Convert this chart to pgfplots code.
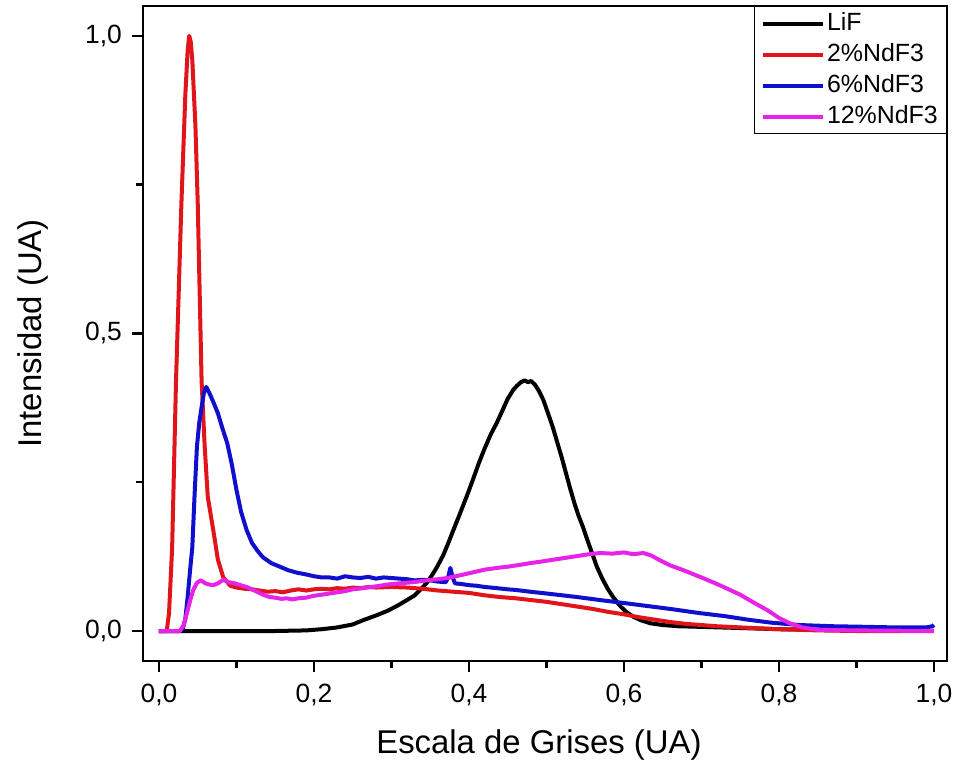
\documentclass[border=0pt]{standalone}
\usepackage{fontspec}
\setmainfont{Liberation Sans}
\usepackage{pgfplots}
\pgfplotsset{compat=1.18}

\definecolor{cLiF}{RGB}{0,0,0}
\definecolor{cTwo}{RGB}{225,20,25}
\definecolor{cSix}{RGB}{15,15,205}
\definecolor{cTwelve}{RGB}{230,35,230}

\begin{document}
\begin{tikzpicture}
\begin{axis}[
  scale only axis, width=804bp, height=655bp,
  xmin=-0.0206, xmax=1.0168, ymin=-0.0504, ymax=1.050,
  xtick={0,0.2,0.4,0.6,0.8,1}, minor xtick={0.1,0.3,0.5,0.7,0.9},
  ytick={0,0.5,1}, minor ytick={0.25,0.75},
  tick align=outside, tick pos=left,
  major tick length=11bp, minor tick length=7bp,
  every tick/.style={black, line width=2.4bp},
  axis line style={line width=2.7bp},
  tick label style={font=\fontsize{26.5}{31}\selectfont},
  xticklabel style={inner sep=0pt}, xticklabel shift=12bp,
  yticklabel style={inner sep=0pt}, yticklabel shift=10bp,
  /pgf/number format/use comma,
  /pgf/number format/fixed,
  /pgf/number format/fixed zerofill,
  /pgf/number format/precision=1,
  /pgf/number format/assume math mode=true,
  label style={font=\fontsize{33}{38}\selectfont},
  xlabel={Escala de Grises (UA)},
  ylabel={Intensidad (UA)},
  xlabel style={at={(axis description cs:0.4925,-0.1405)}, anchor=base},
  ylabel style={at={(axis description cs:-0.137,0.5)}, anchor=center},
  every axis plot/.append style={line width=4bp, line join=round},
  legend image code/.code={\draw[#1] (0bp,0bp) -- (60bp,0bp);},
  legend cell align=left,
  legend style={at={(1,1)}, anchor=north east, draw=black, line width=1.4bp,
    font=\fontsize{25}{30}\selectfont, inner xsep=6bp, inner ysep=1.5bp,
    nodes={inner sep=2.5bp, text height=20bp, text depth=6bp},
    row sep=0pt},
]
% LiF
\addplot[cLiF] coordinates {
(0,0) (0.05,0) (0.1,0) (0.15,0) (0.19,0.001) (0.21,0.003) (0.23,0.006)
(0.25,0.011) (0.263,0.018) (0.28,0.026) (0.295,0.034) (0.307,0.042)
(0.32,0.052) (0.33,0.06) (0.337,0.069) (0.345,0.08) (0.352,0.093)
(0.359,0.108) (0.367,0.128) (0.374,0.15) (0.38,0.17) (0.388,0.196)
(0.397,0.226) (0.405,0.254) (0.413,0.283) (0.42,0.306) (0.428,0.33)
(0.436,0.35) (0.443,0.37) (0.45,0.39) (0.457,0.405) (0.462,0.412)
(0.467,0.418) (0.472,0.421) (0.476,0.418) (0.48,0.42) (0.485,0.414)
(0.49,0.404) (0.496,0.388) (0.503,0.362) (0.508,0.343) (0.513,0.321)
(0.52,0.29) (0.525,0.266) (0.53,0.242) (0.536,0.215) (0.541,0.195)
(0.547,0.175) (0.553,0.152) (0.559,0.13) (0.565,0.108) (0.572,0.088)
(0.579,0.071) (0.586,0.057) (0.595,0.042) (0.603,0.032) (0.612,0.024)
(0.622,0.018) (0.634,0.013) (0.65,0.01) (0.67,0.008) (0.698,0.007)
(0.75,0.005) (0.8,0.003) (0.85,0.002) (0.9,0.001) (1.0,0)
};
\addlegendentry{LiF}
% 2% NdF3
\addplot[cTwo] coordinates {
(0,0) (0.01,0) (0.013,0.03) (0.017,0.14) (0.022,0.42) (0.029,0.72)
(0.034,0.9) (0.037,0.975) (0.039,1.0) (0.041,0.99) (0.043,0.96)
(0.047,0.85) (0.05,0.72) (0.055,0.42) (0.059,0.31) (0.063,0.225)
(0.07,0.17) (0.076,0.12) (0.083,0.09) (0.092,0.076) (0.1,0.073)
(0.11,0.071) (0.12,0.07) (0.13,0.068) (0.14,0.066) (0.15,0.067)
(0.16,0.065) (0.17,0.068) (0.18,0.07) (0.19,0.068) (0.2,0.07)
(0.21,0.071) (0.22,0.07) (0.23,0.072) (0.24,0.071) (0.25,0.073)
(0.26,0.072) (0.27,0.074) (0.28,0.073) (0.3,0.074) (0.32,0.073)
(0.34,0.071) (0.36,0.068) (0.38,0.066) (0.4,0.064) (0.42,0.06)
(0.44,0.057) (0.46,0.055) (0.48,0.052) (0.5,0.049) (0.52,0.045)
(0.54,0.041) (0.56,0.037) (0.58,0.032) (0.6,0.028) (0.62,0.023)
(0.64,0.019) (0.66,0.015) (0.68,0.012) (0.7,0.01) (0.72,0.008)
(0.75,0.006) (0.8,0.003) (0.85,0.001) (0.9,0) (1.0,0)
};
\addlegendentry{2\%NdF3}
% 6% NdF3
\addplot[cSix] coordinates {
(0,0) (0.027,0) (0.031,0.005) (0.034,0.02) (0.037,0.057) (0.04,0.1)
(0.043,0.14) (0.046,0.23) (0.049,0.31) (0.052,0.35) (0.055,0.376)
(0.058,0.4) (0.061,0.41) (0.065,0.4) (0.07,0.385) (0.076,0.366)
(0.082,0.34) (0.088,0.316) (0.094,0.28) (0.1,0.237) (0.106,0.2)
(0.113,0.17) (0.12,0.148) (0.127,0.135) (0.134,0.124) (0.145,0.114)
(0.156,0.108) (0.167,0.102) (0.178,0.098) (0.19,0.095) (0.2,0.092)
(0.21,0.09) (0.22,0.09) (0.23,0.088) (0.24,0.092) (0.25,0.09)
(0.26,0.089) (0.27,0.091) (0.28,0.088) (0.29,0.09) (0.3,0.089)
(0.31,0.088) (0.32,0.087) (0.33,0.085) (0.34,0.086) (0.35,0.085)
(0.36,0.083) (0.37,0.082) (0.373,0.09) (0.376,0.106) (0.379,0.09)
(0.382,0.08) (0.39,0.079) (0.4,0.077) (0.41,0.076) (0.42,0.074)
(0.436,0.072) (0.45,0.07) (0.46,0.069) (0.479,0.066) (0.5,0.063)
(0.52,0.06) (0.54,0.057) (0.569,0.052) (0.6,0.047) (0.63,0.042)
(0.66,0.037) (0.698,0.03) (0.73,0.025) (0.76,0.019) (0.79,0.014)
(0.827,0.01) (0.87,0.008) (0.913,0.007) (0.95,0.006) (0.99,0.006)
(0.998,0.008) (1.0,0.01)
};
\addlegendentry{6\%NdF3}
% 12% NdF3
\addplot[cTwelve] coordinates {
(0,0) (0.027,0) (0.032,0.01) (0.036,0.03) (0.04,0.05) (0.044,0.068)
(0.049,0.081) (0.054,0.085) (0.06,0.08) (0.065,0.078) (0.07,0.077)
(0.076,0.08) (0.083,0.086) (0.09,0.082) (0.098,0.08) (0.105,0.077)
(0.113,0.074) (0.12,0.07) (0.128,0.065) (0.136,0.06) (0.143,0.057)
(0.15,0.056) (0.158,0.054) (0.165,0.055) (0.172,0.053) (0.18,0.055)
(0.19,0.056) (0.199,0.059) (0.21,0.061) (0.22,0.063) (0.23,0.065)
(0.24,0.067) (0.25,0.07) (0.263,0.072) (0.28,0.075) (0.295,0.078)
(0.31,0.08) (0.328,0.082) (0.345,0.085) (0.36,0.087) (0.372,0.089)
(0.39,0.094) (0.41,0.1) (0.42,0.103) (0.436,0.106) (0.45,0.108)
(0.465,0.111) (0.479,0.114) (0.49,0.116) (0.505,0.119) (0.52,0.122)
(0.54,0.126) (0.555,0.129) (0.569,0.131) (0.585,0.13) (0.6,0.132)
(0.612,0.129) (0.625,0.131) (0.635,0.127) (0.646,0.119) (0.66,0.11)
(0.675,0.103) (0.698,0.091) (0.72,0.079) (0.735,0.07) (0.75,0.061)
(0.767,0.048) (0.785,0.035) (0.8,0.022) (0.814,0.013) (0.83,0.006)
(0.849,0.002) (0.9,0.001) (1.0,0)
};
\addlegendentry{12\%NdF3}
\end{axis}
\pgfresetboundingbox
\path (-143bp,-100bp) rectangle (810bp,661bp);
\end{tikzpicture}
\end{document}
